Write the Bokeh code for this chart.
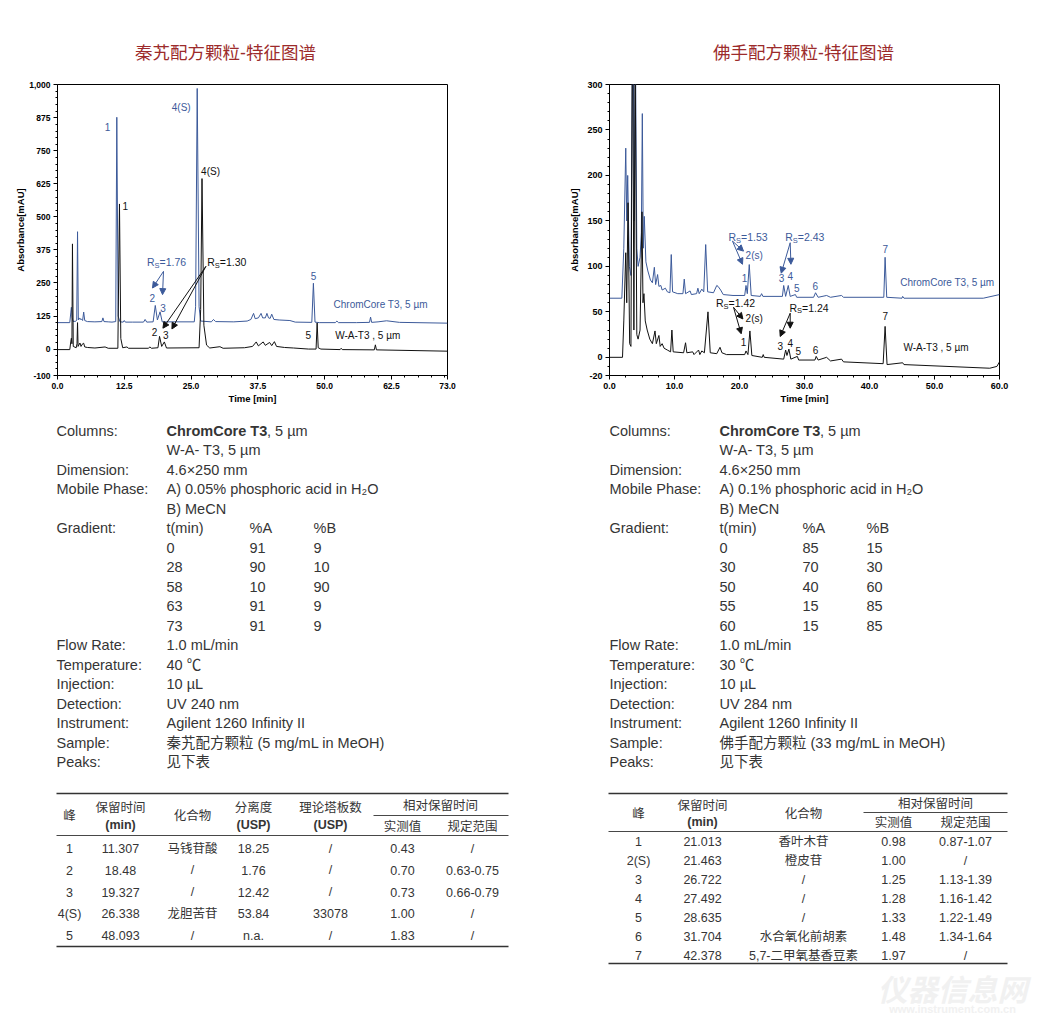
from bokeh.plotting import figure
from bokeh.layouts import column, row
from bokeh.models import (Range1d, FixedTicker, NumeralTickFormatter, Arrow,
                          NormalHead, ColumnDataSource)
from bokeh.core.properties import value
from bokeh.embed import file_html
from bokeh.resources import INLINE

FONT = "Liberation Sans, Noto Sans CJK SC"
BLUE = "#3c5a9a"
BLACK = "#111111"
TXT = "#353535"
TITLE_RED = "#9c2b2b"

# ---------------- titles ----------------
titles = ["秦艽配方颗粒-特征图谱", "佛手配方颗粒-特征图谱"]

# ---------------- chromatogram data (time [min], absorbance [mAU]) ----------------
L_t_blue = [0, 2.3, 2.5, 2.6, 2.75, 2.9, 3.4, 3.6, 3.75, 3.9, 4.0, 4.2, 4.4, 4.7, 4.9, 5.1, 5.6, 7.0,
            8.3, 8.5, 8.7, 9.5, 10.2, 10.9, 11.1, 11.35, 11.7, 12.3, 12.5, 12.7, 14.0, 16.1, 16.4,
            16.7, 17.9, 18.3, 18.7, 19.2, 19.6, 25.6, 25.85, 26.15, 26.5, 26.8, 28.8, 29.2, 29.6,
            33.0, 35.5, 36.2, 36.7, 37.0, 37.6, 38.1, 38.4, 38.9, 39.2, 39.5, 39.8, 40.1, 40.5,
            41.5, 43.5, 44.5, 47.6, 47.9, 48.2, 49.0, 52.0, 52.3, 52.6, 56.0, 58.4, 58.6, 58.8,
            60.0, 61.6, 64.0, 73.0]
L_a_blue = [100, 100, 140, 158, 120, 105, 105, 110, 444, 110, 118, 112, 115, 108, 140, 108, 104, 103,
            104, 118, 104, 103, 102, 104, 877, 125, 103, 102, 108, 102, 102, 102, 112,
            102, 103, 165, 110, 141, 103, 103, 160, 986, 160, 106, 103, 112, 104,
            103, 106, 112, 135, 115, 118, 135, 118, 118, 135, 118, 116, 132, 112,
            110, 108, 102, 101, 249, 102, 100, 100, 106, 100, 100, 101, 121, 101,
            103, 107, 101, 98]
L_t_black = [0, 2.3, 2.5, 2.6, 2.7, 2.8, 2.95, 3.5, 3.65, 3.75, 3.85, 4.2, 4.4, 4.7, 4.9, 5.1, 5.6,
             7.0, 8.9, 9.5, 11.3, 11.6, 11.85, 12.2, 13.0, 13.3, 17.0, 17.3, 17.6, 18.8, 19.1,
             19.5, 20.0, 20.4, 26.5, 26.8, 27.05, 27.4, 27.9, 28.5, 30.4, 31.0, 35.0, 36.5,
             37.2, 37.6, 38.5, 38.9, 39.7, 40.1, 40.6, 41.0, 42.5, 44.2, 47.0, 48.4, 48.6, 48.8,
             49.3, 52.9, 53.1, 53.3, 59.3, 59.5, 59.7, 73.0]
L_a_black = [-2, -2, 30, 41, 20, 398, 10, 5, 20, 100, 10, 23, 10, 20, 22, 8, 6,
             4, 8, 3, 3, 549, 40, 5, 8, 3, 3, 8, 3, 5, 48,
             10, 27, 4, 5, 150, 645, 90, 15, 4, 9, 3, 5, 10,
             27, 12, 27, 14, 25, 13, 28, 10, 6, 4, 0, 0, 99, 5,
             0, -2, 3, -2, -3, 16, -3, -8]

R_t_blue = [0, 1.9, 2.2, 2.5, 2.65, 2.8, 3.05, 3.3, 3.6, 3.8, 4.0, 4.2, 4.4, 4.7, 4.9, 5.05, 5.2,
            5.35, 5.6, 5.9, 6.3, 6.6, 6.9, 7.1, 7.4, 7.6, 7.9, 8.1, 8.6, 8.9, 9.3, 9.5, 9.7, 10.5,
            11.3, 11.5, 11.7, 12.4, 12.6, 13.4, 13.6, 13.8, 14.2, 14.5, 14.8, 15.1, 16.0, 16.5,
            16.7, 17.1, 17.5, 19.0, 20.8, 21.0, 21.2, 21.5, 21.8, 23.2, 23.4, 23.6, 26.6, 26.8,
            27.1, 27.5, 27.8, 28.6, 28.8, 31.4, 31.7, 32.1, 33.4, 34.0, 35.7, 36.0, 42.2, 42.4,
            42.65, 45.0, 45.1, 45.3, 57.5, 60.0]
R_a_blue = [65, 65, 120, 230, 150, 200, 100, 90, 420, 150, 330, 120, 100, 110, 137, 268, 120,
            155, 105, 95, 85, 82, 99, 80, 91, 78, 79, 74, 76, 72, 71, 113, 72, 70,
            70, 86, 70, 73, 69, 70, 76, 70, 75, 72, 124, 72, 71, 79,
            78, 74, 69, 68, 68, 79, 70, 102, 68, 67, 70, 67, 67, 79,
            67, 79, 67, 69, 66, 66, 71, 66, 68, 66, 68, 66, 66, 110,
            66, 65, 67, 65, 65, 69]
R_t_black = [0, 2.0, 2.2, 2.5, 2.65, 2.85, 3.1, 3.3, 3.55, 3.75, 3.95, 4.2, 4.4, 4.7, 5.0, 5.15,
             5.3, 5.5, 5.8, 6.2, 6.6, 7.0, 7.2, 7.6, 7.8, 8.1, 8.4, 8.9, 9.4, 9.6, 9.8, 11.4,
             11.7, 11.9, 12.8, 13.0, 13.7, 13.9, 14.2, 14.6, 15.15, 15.5, 16.5, 17.0, 17.3, 18.0,
             20.8, 21.0, 21.3, 21.6, 21.9, 23.5, 23.65, 23.8, 26.8, 27.1, 27.3, 27.6, 27.9, 28.9,
             29.1, 31.6, 31.8, 32.1, 33.4, 34.0, 35.7, 36.0, 42.1, 42.4, 42.7, 45.1, 45.3, 58.5,
             59.6, 60.0]
R_a_black = [0, 0, 40, 115, 60, 170, 15, 12, 400, 30, 330, 25, 20, 30, 160, 60,
             70, 40, 30, 20, 15, 29, 15, 24, 12, 15, 10, 8, 6, 30, 6, 5,
             16, 5, 6, 3, 8, 3, 7, 5, 50, 5, 4, 11, 5, 3,
             3, 7, 3, 29, 2, 0, 3, 0, -2, 8, 2, 9, -2, 1,
             -3, -3, 1, -3, 0, -4, -2, -5, -7, 34, -8, -6, -8, -12,
             -10, -5]

# ---------------- peak annotations ----------------
L_blue_lab = ["1", "4(S)", "2", "3", "5"]
L_blue_lab_t = [9.36, 23.16, 17.73, 19.73, 47.92]
L_blue_lab_v = [842, 914, 193, 155, 278]
L_black_lab = ["4(S)", "1", "2", "3", "5"]
L_black_lab_t = [28.65, 12.67, 18.16, 20.29, 46.93]
L_black_lab_v = [670, 541, 64, 54, 54]
L_rs_text = ["1.76", "1.30"]
L_rs_t = [16.74, 28.02]
L_rs_v = [329, 329]
L_arrow_blue = dict(xs=[19.84, 19.84], ys=[294, 294], xe=[17.78, 19.66], ye=[231, 206])
L_arrow_black = dict(xs=[27.78, 27.78], ys=[313, 313], xe=[19.73, 21.42], ye=[79, 76])
L_legend = ["ChromCore T3, 5 µm", "W-A-T3 , 5 µm"]
L_legend_t = [51.67, 51.99]
L_legend_v = [168, 52]

R_blue_lab = ["2(s)", "1", "3", "4", "5", "6", "7"]
R_blue_lab_t = [22.26, 20.77, 26.46, 27.8, 28.83, 31.65, 42.42]
R_blue_lab_v = [112.5, 87.0, 86.7, 89.5, 75.8, 78.6, 119.5]
R_black_lab = ["2(s)", "1", "3", "4", "5", "6", "7"]
R_black_lab_t = [22.26, 20.62, 26.26, 27.8, 29.03, 31.69, 42.42]
R_black_lab_v = [42.2, 16.8, 12.0, 16.0, 6.5, 7.6, 45.8]
R_rs_text_blue = ["1.53", "2.43"]
R_rs_t_blue = [18.31, 27.03]
R_rs_v_blue = [132.1, 132.1]
R_rs_text_black = ["1.42", "1.24"]
R_rs_t_black = [16.37, 27.69]
R_rs_v_black = [59.4, 54.6]
R_arrow_blue = dict(xs=[18.92, 18.92, 27.8, 27.8], ys=[127.8, 127.8, 126, 126],
                    xe=[20.46, 20.62, 26.42, 27.91], ye=[102.3, 116.8, 92.5, 102.3])
R_arrow_black = dict(xs=[19.08, 19.08, 27.8, 27.8], ys=[55, 55, 48.5, 48.5],
                     xe=[20.26, 20.52, 26.26, 27.8], ye=[25.9, 42.2, 22.9, 32.0])
R_legend = ["ChromCore T3, 5 µm", "W-A-T3 , 5 µm"]
R_legend_t = [44.72, 45.23]
R_legend_v = [82.3, 10.9]

# ---------------- axes ----------------
L_xticks = [0, 12.5, 25, 37.5, 50, 62.5, 73]
L_xminor = [2.5 * i for i in range(1, 30)]
L_yticks = [-100, 0, 125, 250, 375, 500, 625, 750, 875, 1000]
L_yminor = [-75, -50, -25] + [25 * i for i in range(1, 40)]
R_xticks = [0, 10, 20, 30, 40, 50, 60]
R_xminor = [2.5 * i for i in range(1, 24)]
R_yticks = [-20, 0, 50, 100, 150, 200, 250, 300]
R_yminor = [-10] + [10 * i for i in range(1, 30)]

# ---------------- method parameters ----------------
param_labels = ["Columns:", "", "Dimension:", "Mobile Phase:", "", "Gradient:", "", "", "", "", "",
                "Flow Rate:", "Temperature:", "Injection:", "Detection:", "Instrument:",
                "Sample:", "Peaks:"]
col_bold = "ChromCore T3"
col_rest = ", 5 µm"
grad_hdr = ["t(min)", "%A", "%B"]
L_params = {"col2": "W-A- T3, 5 µm", "dim": "4.6×250 mm",
            "mpA": "A) 0.05% phosphoric acid in H₂O", "mpB": "B) MeCN",
            "flow": "1.0 mL/min", "temp": "40 ℃", "inj": "10 µL", "det": "UV 240 nm",
            "inst": "Agilent 1260 Infinity II", "sample": "秦艽配方颗粒 (5 mg/mL in MeOH)",
            "peaks": "见下表"}
R_params = {"col2": "W-A- T3, 5 µm", "dim": "4.6×250 mm",
            "mpA": "A) 0.1% phosphoric acid in H₂O", "mpB": "B) MeCN",
            "flow": "1.0 mL/min", "temp": "30 ℃", "inj": "10 µL", "det": "UV 284 nm",
            "inst": "Agilent 1260 Infinity II", "sample": "佛手配方颗粒 (33 mg/mL in MeOH)",
            "peaks": "见下表"}
L_grad_t = ["0", "28", "58", "63", "73"]
L_grad_A = ["91", "90", "10", "91", "91"]
L_grad_B = ["9", "10", "90", "9", "9"]
R_grad_t = ["0", "30", "50", "55", "60"]
R_grad_A = ["85", "70", "40", "15", "15"]
R_grad_B = ["15", "30", "60", "85", "85"]

# ---------------- result tables ----------------
L_peak = ["1", "2", "3", "4(S)", "5"]
L_rt = ["11.307", "18.48", "19.327", "26.338", "48.093"]
L_comp = ["马钱苷酸", "/", "/", "龙胆苦苷", "/"]
L_res = ["18.25", "1.76", "12.42", "53.84", "n.a."]
L_plates = ["/", "/", "/", "33078", "/"]
L_rrt = ["0.43", "0.70", "0.73", "1.00", "1.83"]
L_range = ["/", "0.63-0.75", "0.66-0.79", "/", "/"]

R_peak = ["1", "2(S)", "3", "4", "5", "6", "7"]
R_rt = ["21.013", "21.463", "26.722", "27.492", "28.635", "31.704", "42.378"]
R_comp = ["香叶木苷", "橙皮苷", "/", "/", "/", "水合氧化前胡素", "5,7-二甲氧基香豆素"]
R_rrt = ["0.98", "1.00", "1.25", "1.28", "1.33", "1.48", "1.97"]
R_range = ["0.87-1.07", "/", "1.13-1.39", "1.16-1.42", "1.22-1.49", "1.34-1.64", "/"]

watermark = ["仪器信息网", "www.instrument.com.cn"]


# ======================= build =======================
def canvas(w, h, ytop, ybot):
    p = figure(width=w, height=h, x_range=Range1d(0, w), y_range=Range1d(ybot, ytop),
               x_axis_type=None, y_axis_type=None, output_backend="svg",
               toolbar_location=None, min_border=0)
    p.grid.visible = False
    p.outline_line_color = None
    p.background_fill_color = "white"
    p.border_fill_color = "white"
    return p


def txt(p, x, y, t, size, color=TXT, align="left", style="normal", xo=0, yo=0):
    if isinstance(t, str):
        x, y, t = [x], [y], [t]
    p.text(x=x, y=y, text=t, text_font=value(FONT), text_font_size=size,
           text_color=color, text_align=align, text_baseline="middle",
           text_font_style=style, x_offset=xo, y_offset=yo)


def chrom(xr, yr, mbl, mbr, xt, xm, yt, ym, yfmt, tsize,
          tb, ab, tk, ak, bl, blt, blv, kl, klt, klv,
          rs_b, rs_k, arr_b, arr_k, leg, legt, legv, ylab_standoff):
    p = figure(width=520, height=340, x_range=Range1d(*xr), y_range=Range1d(*yr),
               output_backend="svg", toolbar_location=None,
               min_border_left=mbl, min_border_right=mbr, min_border_top=14,
               min_border_bottom=35)
    p.grid.visible = False
    p.outline_line_color = "#000000"
    p.outline_line_width = 1
    p.background_fill_color = "white"
    p.border_fill_color = "white"
    p.xaxis.ticker = FixedTicker(ticks=xt, minor_ticks=xm)
    p.yaxis.ticker = FixedTicker(ticks=yt, minor_ticks=ym)
    p.xaxis.formatter = NumeralTickFormatter(format="0.0")
    p.yaxis.formatter = NumeralTickFormatter(format=yfmt)
    p.xaxis.axis_label = "Time [min]"
    p.yaxis.axis_label = "Absorbance[mAU]"
    for ax in (p.xaxis[0], p.yaxis[0]):
        ax.major_label_text_font = FONT
        ax.major_label_text_font_style = "bold"
        ax.major_label_text_font_size = tsize
        ax.major_label_text_color = "#000000"
        ax.axis_label_text_font = FONT
        ax.axis_label_text_font_style = "bold"
        ax.axis_label_text_font_size = "9.5px"
        ax.axis_label_text_color = "#000000"
        ax.axis_line_color = "#000000"
        ax.major_tick_line_color = "#000000"
        ax.minor_tick_line_color = "#000000"
        ax.major_tick_in = 0
        ax.major_tick_out = 4
        ax.minor_tick_in = 0
        ax.minor_tick_out = 2
        ax.major_label_standoff = 3
    p.xaxis.axis_label_standoff = 1
    p.yaxis.axis_label_standoff = ylab_standoff
    p.line(tb, ab, line_color=BLUE, line_width=1)
    p.line(tk, ak, line_color=BLACK, line_width=1)
    txt(p, blt, blv, bl, "10px", BLUE, "center")
    txt(p, klt, klv, kl, "10px", BLACK, "center")
    for (rt, rx, ry), c in ((rs_b, BLUE), (rs_k, BLACK)):
        txt(p, rx, ry, ["R"] * len(rt), "10.5px", c, "left")
        txt(p, rx, ry, ["S"] * len(rt), "7.5px", c, "left", xo=7.6, yo=3)
        txt(p, rx, ry, ["=" + s for s in rt], "10.5px", c, "left", xo=12.6)
    for a, c in ((arr_b, BLUE), (arr_k, BLACK)):
        src = ColumnDataSource(a)
        p.add_layout(Arrow(end=NormalHead(size=6, fill_color=c, line_color=c, line_width=1),
                           x_start="xs", y_start="ys", x_end="xe", y_end="ye",
                           source=src, line_color=c, line_width=1))
    txt(p, legt[:1], legv[:1], leg[:1], "10px", BLUE, "left")
    txt(p, legt[1:], legv[1:], leg[1:], "10px", BLACK, "left")
    return p


# ---- title strip ----
top = canvas(1040, 70, 0, 70)
txt(top, [225, 803], [52, 52], titles, "17.5px", TITLE_RED, "center")

# ---- chromatograms ----
cL = chrom((0, 73), (-100, 1001), 57, 73, L_xticks, L_xminor, L_yticks, L_yminor, "0,0", "8.5px",
           L_t_blue, L_a_blue, L_t_black, L_a_black,
           L_blue_lab, L_blue_lab_t, L_blue_lab_v, L_black_lab, L_black_lab_t, L_black_lab_v,
           (L_rs_text[:1], L_rs_t[:1], L_rs_v[:1]), (L_rs_text[1:], L_rs_t[1:], L_rs_v[1:]),
           L_arrow_blue, L_arrow_black, L_legend, L_legend_t, L_legend_v, 0)
cR = chrom((0, 60), (-20, 300), 89, 41, R_xticks, R_xminor, R_yticks, R_yminor, "0", "9px",
           R_t_blue, R_a_blue, R_t_black, R_a_black,
           R_blue_lab, R_blue_lab_t, R_blue_lab_v, R_black_lab, R_black_lab_t, R_black_lab_v,
           (R_rs_text_blue, R_rs_t_blue, R_rs_v_blue), (R_rs_text_black, R_rs_t_black, R_rs_v_black),
           R_arrow_blue, R_arrow_black, R_legend, R_legend_t, R_legend_v, 4)

# ---- parameters + tables ----
bot = canvas(1040, 620, 410, 1030)
FS = "14.5px"
LINE0, DY = 430, 19.5


def params(x0, xv, xa, xb, P, gt, ga, gb):
    ys = [LINE0 + i * DY for i in range(len(param_labels))]
    txt(bot, [x0] * len(ys), ys, param_labels, FS)
    txt(bot, xv, ys[0], col_bold, FS, style="bold")
    txt(bot, xv + 100.5, ys[0], col_rest, FS)
    vals = [P["col2"], P["dim"], P["mpA"], P["mpB"]]
    txt(bot, [xv] * 4, ys[1:5], vals, FS)
    txt(bot, [xv, xa, xb], [ys[5]] * 3, grad_hdr, FS)
    txt(bot, [xv] * 5, ys[6:11], gt, FS)
    txt(bot, [xa] * 5, ys[6:11], ga, FS)
    txt(bot, [xb] * 5, ys[6:11], gb, FS)
    vals2 = [P["flow"], P["temp"], P["inj"], P["det"], P["inst"], P["sample"], P["peaks"]]
    txt(bot, [xv] * 7, ys[11:18], vals2, FS)


params(56, 166, 249, 313, L_params, L_grad_t, L_grad_A, L_grad_B)
params(609, 719, 802, 866, R_params, R_grad_t, R_grad_A, R_grad_B)

TS = "12.5px"
# left table
bot.segment(x0=[56, 56], y0=[793, 946], x1=[508, 508], y1=[793, 946], line_color="#333333", line_width=1.4)
bot.segment(x0=[373, 56], y0=[815, 835], x1=[508, 508], y1=[815, 835], line_color="#333333", line_width=0.9)
txt(bot, [69, 120, 192, 253, 330, 440, 402, 472], [815, 807, 815, 807, 807, 805, 826, 826],
    ["峰", "保留时间", "化合物", "分离度", "理论塔板数", "相对保留时间", "实测值", "规定范围"], TS, align="center")
txt(bot, [120, 253, 330], [824, 824, 824], ["(min)", "(USP)", "(USP)"], TS, align="center", style="bold")
Lys = [848 + i * 21.75 for i in range(len(L_peak))]
for xc, col in zip([69, 120, 192, 253, 330, 402, 472],
                   [L_peak, L_rt, L_comp, L_res, L_plates, L_rrt, L_range]):
    txt(bot, [xc] * len(col), Lys, col, TS, align="center")

# right table
bot.segment(x0=[608, 608], y0=[793, 963], x1=[1007, 1007], y1=[793, 963], line_color="#333333", line_width=1.4)
bot.segment(x0=[863, 608], y0=[812, 831], x1=[1007, 1007], y1=[812, 831], line_color="#333333", line_width=0.9)
txt(bot, [638, 702, 803, 935, 893, 965], [813, 805, 813, 803, 822, 822],
    ["峰", "保留时间", "化合物", "相对保留时间", "实测值", "规定范围"], TS, align="center")
txt(bot, [702], [821], ["(min)"], TS, align="center", style="bold")
Rys = [841 + i * 19.0 for i in range(len(R_peak))]
for xc, col in zip([638, 702, 803, 893, 965], [R_peak, R_rt, R_comp, R_rrt, R_range]):
    txt(bot, [xc] * len(col), Rys, col, TS, align="center")

# watermark
txt(bot, [952], [990], watermark[:1], "30px", "#f1f1f1", "center", style="bold italic")
txt(bot, [952], [1008], watermark[1:], "11px", "#f1f1f1", "center", style="bold")

layout = column(top, row(cL, cR), bot)
open("out.html", "w").write(file_html(layout, INLINE))
